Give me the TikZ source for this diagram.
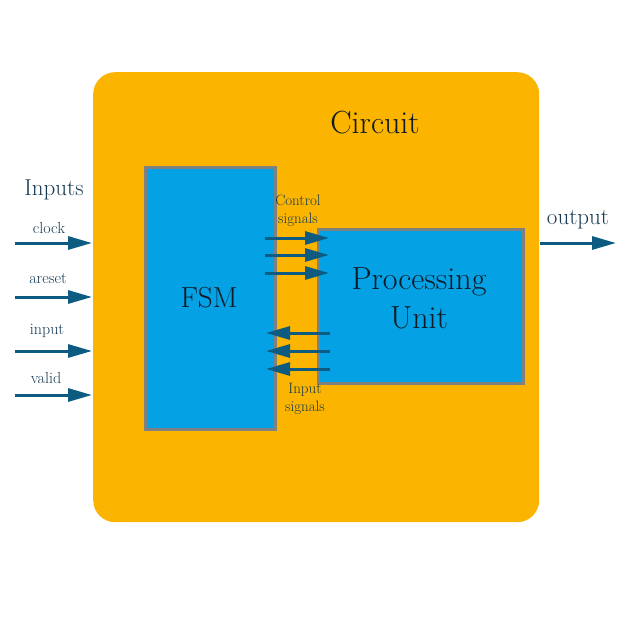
\documentclass[tikz,border=0pt]{standalone}
\usetikzlibrary{arrows.meta}
\definecolor{orangebg}{HTML}{FBB400}
\definecolor{blockblue}{HTML}{04A2E4}
\definecolor{blockedge}{HTML}{7F8080}
\definecolor{arrowcol}{HTML}{0D5B80}
\definecolor{txtcol}{HTML}{173A52}
\definecolor{darktxt}{HTML}{0F1A26}
\begin{document}
\begin{tikzpicture}[x=1pt,y=-1pt,
  circuitbox/.style={fill=orangebg,draw=none,rounded corners=22pt},
  block/.style={fill=blockblue,draw=blockedge,line width=3pt,inner sep=0pt},
  sig/.style={draw=arrowcol,line width=3pt,-{Triangle[length=24pt,width=13pt]}},
  lbl/.style={text=txtcol,inner sep=0pt,align=center},
  biglbl/.style={text=darktxt,inner sep=0pt,align=center}
]
\useasboundingbox (0,0) rectangle (640,640);
\fill[white] (0,0) rectangle (640,640);
\node[circuitbox,minimum width=446pt,minimum height=450pt,anchor=north west] (circ) at (93,72) {};
\node[block,minimum width=130pt,minimum height=262pt,anchor=north west] (fsm) at (144,166) {};
\node[block,minimum width=205pt,minimum height=154pt,anchor=north west] (pu) at (317,228) {};
\node[biglbl,font=\fontsize{32}{34}\selectfont] (circlbl) at (375,123) {Circuit};
\node[biglbl,font=\fontsize{29}{31}\selectfont] (fsmlbl) at (209,298) {FSM};
\node[biglbl,font=\fontsize{32}{39}\selectfont] (pulbl) at (419,298) {Processing\\Unit};
\node[lbl,font=\fontsize{23}{25}\selectfont] (inlbl) at (54,190) {Inputs};
\node[lbl,font=\fontsize{23}{25}\selectfont] (outlbl) at (578,220) {output};
\node[lbl,font=\fontsize{16}{17}\selectfont] (clklbl) at (49,228) {clock};
\node[lbl,font=\fontsize{16}{17}\selectfont] (arlbl) at (48,279) {areset};
\node[lbl,font=\fontsize{16}{17}\selectfont] (inplbl) at (47,331) {input};
\node[lbl,font=\fontsize{16}{17}\selectfont] (vallbl) at (46,378) {valid};
\node[lbl,font=\fontsize{15}{18}\selectfont] (ctllbl) at (298,211) {Control\\signals};
\node[lbl,font=\fontsize{15}{18}\selectfont] (isiglbl) at (305,399) {Input\\signals};
% external inputs
\coordinate (c1) at (15,243); \coordinate (c1e) at (92,243);
\coordinate (c2) at (15,297); \coordinate (c2e) at (92,297);
\coordinate (c3) at (15,351); \coordinate (c3e) at (92,351);
\coordinate (c4) at (15,395); \coordinate (c4e) at (92,395);
\draw[sig] (c1) -- (c1e);
\draw[sig] (c2) -- (c2e);
\draw[sig] (c3) -- (c3e);
\draw[sig] (c4) -- (c4e);
% output
\coordinate (o1) at (540,243); \coordinate (o2) at (616,243);
\draw[sig] (o1) -- (o2);
% control signals
\coordinate (k1) at (265,238); \coordinate (k1e) at (329,238);
\coordinate (k2) at (265,255); \coordinate (k2e) at (329,255);
\coordinate (k3) at (265,273); \coordinate (k3e) at (329,273);
\draw[sig] (k1) -- (k1e);
\draw[sig] (k2) -- (k2e);
\draw[sig] (k3) -- (k3e);
% input signals
\coordinate (s1) at (330,333); \coordinate (s1e) at (266,333);
\coordinate (s2) at (330,351); \coordinate (s2e) at (266,351);
\coordinate (s3) at (330,369); \coordinate (s3e) at (266,369);
\draw[sig] (s1) -- (s1e);
\draw[sig] (s2) -- (s2e);
\draw[sig] (s3) -- (s3e);
\end{tikzpicture}
\end{document}
